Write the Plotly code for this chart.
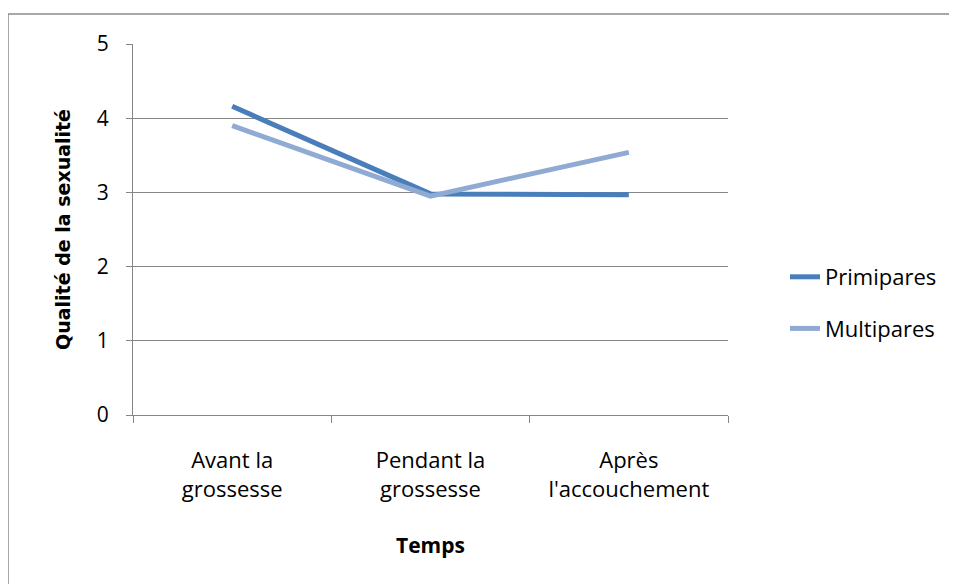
import plotly.graph_objects as go

categories = ["Avant la<br>grossesse", "Pendant la<br>grossesse", "Après<br>l'accouchement"]
primipares = [4.16, 2.98, 2.97]
multipares = [3.90, 2.95, 3.54]
y_ticks = [0, 1, 2, 3, 4, 5]

# page body has an 8px margin, so figure coordinates are offset by 8
W, H = 949, 576
L, R, T, B = 125, 720, 36, 407
PW, PH = R - L, B - T

fig = go.Figure()
fig.add_trace(go.Scatter(x=categories, y=primipares, mode="lines", name="Primipares",
                         legendgroup="a", line=dict(color="#4A7EBB", width=5)))
fig.add_trace(go.Scatter(x=categories, y=multipares, mode="lines", name="Multipares",
                         legendgroup="b", line=dict(color="#8FAAD3", width=5)))

font_main = "Open Sans"
fs = 22
fig.update_layout(
    width=W, height=H,
    margin=dict(l=L, r=W - R, t=T, b=H - B),
    paper_bgcolor="white", plot_bgcolor="white",
    font=dict(family=font_main, size=fs, color="#000000"),
    showlegend=True,
    legend=dict(x=(777 - L) / PW, xanchor="left", y=(B - 295) / PH, yanchor="middle",
                tracegroupgap=20, font=dict(size=fs, family=font_main),
                bgcolor="rgba(0,0,0,0)"),
    xaxis=dict(
        type="category", range=[-0.5, 2.5],
        tickson="boundaries", ticks="outside", ticklen=7, tickcolor="#868686",
        showline=True, linecolor="#868686", linewidth=1,
        showgrid=False, zeroline=False,
        tickfont=dict(size=fs, family=font_main),
        ticklabelstandoff=26,
        title=dict(text="<b>Temps</b>", font=dict(size=21, family=font_main), standoff=36),
    ),
    yaxis=dict(
        range=[0, 5], tickvals=y_ticks, ticks="outside", ticklen=6, tickcolor="#868686",
        showline=True, linecolor="#868686", linewidth=1,
        showgrid=True, gridcolor="#868686", gridwidth=1, zeroline=False,
        tickfont=dict(size=21, family=font_main),
        ticklabelstandoff=13,
        title=dict(text="<b>Qualité de la sexualité</b>", font=dict(size=19, family="DejaVu Sans"),
                   standoff=21),
    ),
    shapes=[dict(type="rect", xref="paper", yref="paper",
                 x0=(0 - L) / PW, x1=(965 - L) / PW,
                 y0=(B - 600) / PH, y1=(B - 6) / PH,
                 line=dict(color="#8C8C8C", width=1.5), fillcolor="rgba(0,0,0,0)", layer="below")],
)

fig.write_html("out.html")
